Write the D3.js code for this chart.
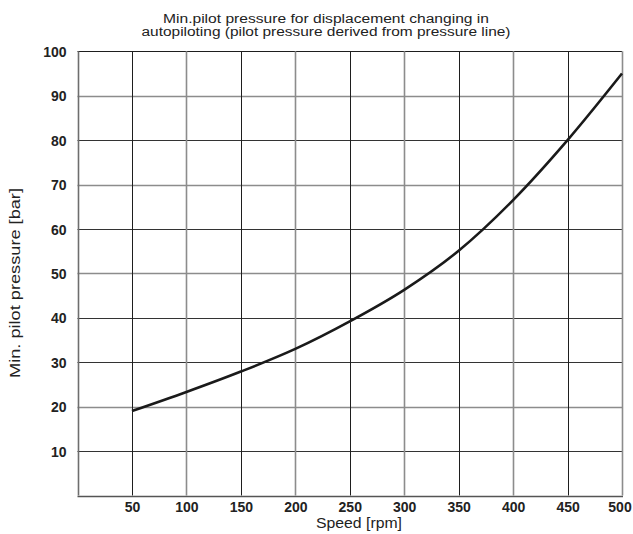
<!DOCTYPE html>
<html>
<head>
<meta charset="utf-8">
<script src="https://cdn.jsdelivr.net/npm/d3@7"></script>
<style>
html,body{margin:0;padding:0;background:#fff;}
svg{display:block;font-family:"Liberation Sans",Arial,sans-serif;}
</style>
</head>
<body>
<svg id="chart" width="633" height="534"></svg>
<script>
const speed = [50, 100, 150, 200, 250, 300, 350, 400, 450, 500];
const pressure = [19, 23.3, 27.9, 33, 39.2, 46.3, 55.1, 66.5, 80, 95];
const xTicks = [50, 100, 150, 200, 250, 300, 350, 400, 450, 500];
const yTicks = [10, 20, 30, 40, 50, 60, 70, 80, 90, 100];
const titleLines = ["Min.pilot pressure for displacement changing in", "autopiloting (pilot pressure derived from pressure line)"];
const xLabel = "Speed [rpm]";
const yLabel = "Min. pilot pressure [bar]";

const svg = d3.select("#chart");
const x = d3.scaleLinear().domain([0, 500]).range([77.5, 622]);
const y = d3.scaleLinear().domain([0, 100]).range([495.5, 51.3]);

const greyX = new Set([100, 200, 300, 400, 500]);
const greyY = new Set([90, 70, 50, 20]);
const BLACK = "#1e1e1e", GREY = "#8c8c8c";

const g = svg.append("g");
// horizontal grid
g.selectAll("line.h").data(yTicks).enter().append("line")
  .attr("x1", x(0)).attr("x2", x(500))
  .attr("y1", d => Math.round(y(d)) + 0.5).attr("y2", d => Math.round(y(d)) + 0.5)
  .attr("stroke", d => d === 100 ? BLACK : (greyY.has(d) ? GREY : "#333"))
  .attr("stroke-width", d => greyY.has(d) ? 1.4 : 1);
// vertical grid
g.selectAll("line.v").data(xTicks).enter().append("line")
  .attr("y1", y(0)).attr("y2", y(100))
  .attr("x1", d => Math.round(x(d)) + 0.5).attr("x2", d => Math.round(x(d)) + 0.5)
  .attr("stroke", d => greyX.has(d) ? GREY : BLACK)
  .attr("stroke-width", d => greyX.has(d) ? 1.6 : 1);
// left border
g.append("line").attr("x1", Math.round(x(0)) + 0.5).attr("x2", Math.round(x(0)) + 0.5)
  .attr("y1", y(0)).attr("y2", y(100)).attr("stroke", "#6e6e6e").attr("stroke-width", 1.6);
// bottom border
g.append("line").attr("x1", x(0)).attr("x2", x(500) + 1)
  .attr("y1", Math.round(y(0)) + 0.5).attr("y2", Math.round(y(0)) + 0.5)
  .attr("stroke", "#555").attr("stroke-width", 1.6);

// curve
const line = d3.line().x((d, i) => x(speed[i])).y(d => y(d)).curve(d3.curveMonotoneX);
svg.append("path").datum(pressure).attr("d", line)
  .attr("fill", "none").attr("stroke", "#1a1a1a").attr("stroke-width", 2.6);

// axes via d3 axis (ticks hidden, labels only)
const xAxis = d3.axisBottom(x).tickValues(xTicks).tickSize(0).tickPadding(0);
const xa = svg.append("g").attr("transform", `translate(0,${y(0) + 7})`).call(xAxis);
xa.select(".domain").remove();
xa.selectAll("text").attr("font-size", 14).attr("font-weight", "bold").attr("fill", "#222")
  .attr("font-family", "Liberation Sans, Arial, sans-serif").attr("dy", "0.71em")
  .attr("dx", d => d === 500 ? -2.5 : 0);

const yAxis = d3.axisLeft(y).tickValues(yTicks).tickSize(0).tickPadding(11);
const ya = svg.append("g").attr("transform", `translate(${x(0)},0)`).call(yAxis);
ya.select(".domain").remove();
ya.selectAll("text").attr("font-size", 14).attr("font-weight", "bold").attr("fill", "#222")
  .attr("font-family", "Liberation Sans, Arial, sans-serif").attr("dy", "0.36em");

// title
const tw = [326, 369];
titleLines.forEach((t, i) => {
  svg.append("text").attr("x", 326).attr("y", 22.5 + i * 13.8)
    .attr("text-anchor", "middle").attr("font-size", 12.5).attr("fill", "#222")
    .attr("textLength", tw[i]).attr("lengthAdjust", "spacingAndGlyphs").text(t);
});
// x label
svg.append("text").attr("x", 359).attr("y", 528).attr("text-anchor", "middle")
  .attr("font-size", 14).attr("fill", "#222").attr("textLength", 86).attr("lengthAdjust", "spacingAndGlyphs").text(xLabel);
// y label
svg.append("text").attr("transform", "translate(20,283) rotate(-90)").attr("text-anchor", "middle")
  .attr("font-size", 14).attr("fill", "#222").attr("textLength", 190).attr("lengthAdjust", "spacingAndGlyphs").text(yLabel);
</script>
</body>
</html>
